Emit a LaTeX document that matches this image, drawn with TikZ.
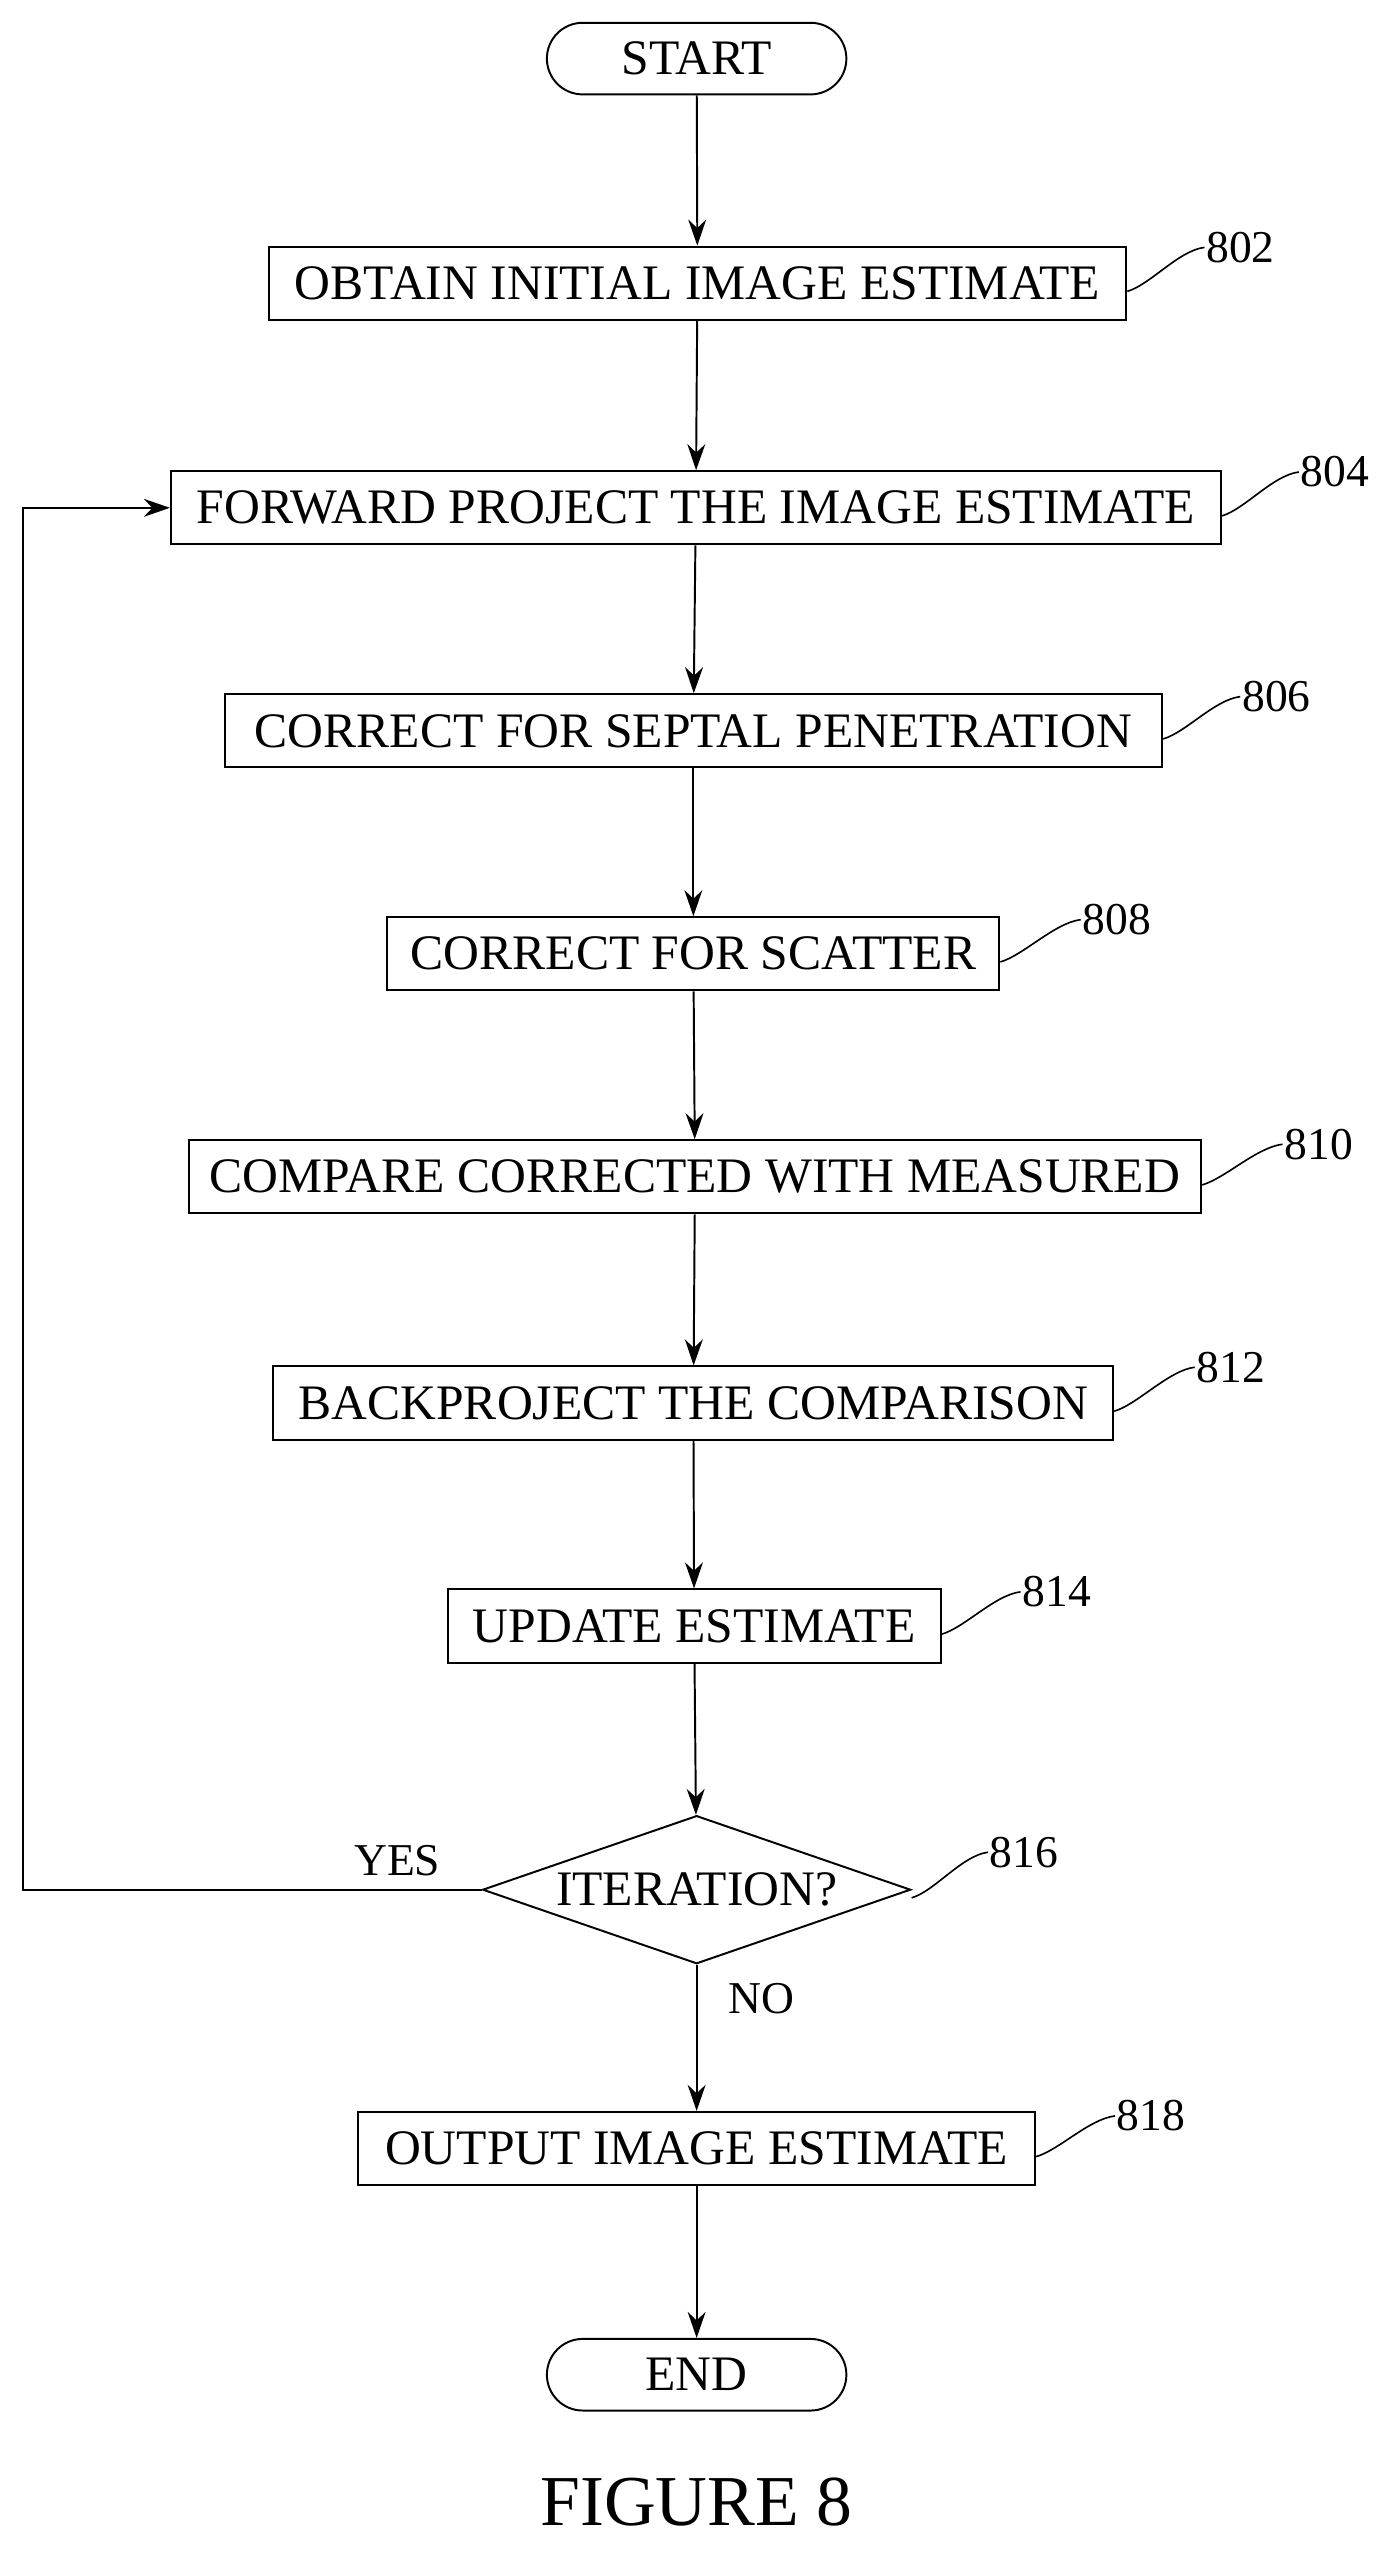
\documentclass[tikz,border=0pt]{standalone}
\usepackage{fontspec}
\setmainfont{Liberation Serif}
\usetikzlibrary{shapes.geometric,arrows.meta}
\begin{document}
\begin{tikzpicture}[x=1pt,y=-1pt,
  box/.style={draw,line width=1.2pt,minimum height=45pt,inner sep=0pt,font=\fontsize{30.5}{33}\selectfont},
  term/.style={box,rounded corners=22pt,minimum width=184pt,minimum height=44pt},
  lbl/.style={font=\fontsize{28}{30}\selectfont,anchor=west,inner sep=1pt},
  arr/.style={line width=1.2pt,-{Stealth[length=16pt,width=11pt]}},
  lead/.style={line width=1pt}]
\useasboundingbox (0,0) rectangle (852,1571);
\node[term] (start) at (428,36) {START};
\node[box,minimum width=527pt] (b802) at (428.5,174) {OBTAIN INITIAL IMAGE ESTIMATE};
\node[box,minimum width=645pt] (b804) at (427.5,312) {FORWARD PROJECT THE IMAGE ESTIMATE};
\node[box,minimum width=576pt] (b806) at (426,449) {CORRECT FOR SEPTAL PENETRATION};
\node[box,minimum width=376pt] (b808) at (426,586) {CORRECT FOR SCATTER};
\node[box,minimum width=622pt] (b810) at (427,723) {COMPARE CORRECTED WITH MEASURED};
\node[box,minimum width=516pt] (b812) at (426,862) {BACKPROJECT THE COMPARISON};
\node[box,minimum width=303pt] (b814) at (426.5,999) {UPDATE ESTIMATE};
\node[draw,line width=1.2pt,diamond,aspect=2.9,minimum width=263pt,minimum height=91pt,inner sep=0pt,font=\fontsize{30.5}{33}\selectfont] (d816) at (428,1161) {ITERATION?};
\node[box,minimum width=416pt] (b818) at (428,1320) {OUTPUT IMAGE ESTIMATE};
\node[term] (end) at (428,1459) {END};
\node[font=\fontsize{44}{48}\selectfont] (fig) at (428,1537) {FIGURE 8};

\draw[arr] (start) -- (b802);
\draw[arr] (b802) -- (b804);
\draw[arr] (b804) -- (b806);
\draw[arr] (b806) -- (b808);
\draw[arr] (b808) -- (b810);
\draw[arr] (b810) -- (b812);
\draw[arr] (b812) -- (b814);
\draw[arr] (b814) -- (d816);
\draw[arr] (d816) -- (b818);
\draw[arr] (b818) -- (end);
\coordinate (lp) at (14,1161);
\draw[arr] (d816.west) -- (lp) |- (b804.west);
\node[font=\fontsize{28}{30}\selectfont] (yes) at (244,1143) {YES};
\node[font=\fontsize{28}{30}\selectfont] (no) at (468,1228) {NO};

\foreach \b/\n/\x/\y in {b802/802/740/152, b804/804/798/290, b806/806/762/428, b808/808/664/565, b810/810/788/703, b812/812/734/840, b814/814/627/978, d816/816/607/1138, b818/818/685/1300}{
  \node[lbl] (l\n) at (\x,\y) {\n};
  \draw[lead] ([yshift=-5pt]\b.east) .. controls +(14,-4) and +(-16,2) .. (l\n.west);
}
\end{tikzpicture}
\end{document}
